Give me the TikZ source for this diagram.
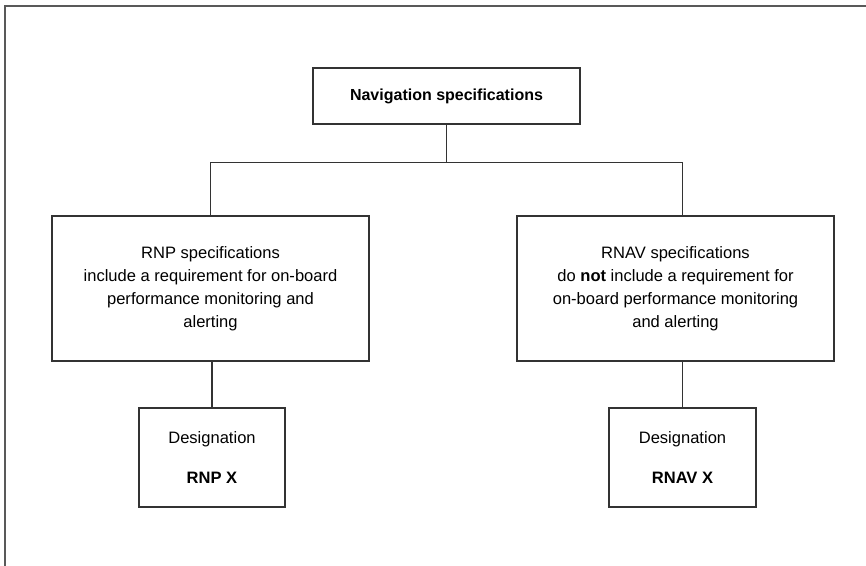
\documentclass[tikz,border=0pt]{standalone}
\usepackage{fontspec}
\setmainfont{Liberation Sans}
\usepackage{tikz}
\usetikzlibrary{positioning}
\usetikzlibrary{calc}

\begin{document}
\begin{tikzpicture}[x=0.75pt,y=-0.75pt,
	specbox/.style={draw=black!80, line width=1pt, align=center, inner sep=0pt, font=\fontsize{12.4}{17.25}\selectfont},
	frameline/.style={draw=black!65, line width=1.5pt}]
			\useasboundingbox (0,0) rectangle (866,566);
			\draw[frameline] (5,566) -- (5,6) -- (866,6);
			\node at (446.5,96) (nav) [specbox, minimum width=200.25pt, minimum height=42pt, font=\fontsize{12}{15}\selectfont\bfseries] {Navigation specifications};
			\node at (210.5,288.5) (rnp) [specbox, minimum width=237.75pt, minimum height=108.75pt] {RNP specifications\\include a requirement for on-board\\performance monitoring and\\alerting};
			\node at (675.5,288.5) (rnav) [specbox, minimum width=237.75pt, minimum height=108.75pt] {RNAV specifications\\do \textbf{not} include a requirement for\\on-board performance monitoring\\and alerting};
			\node at (212,457.5) (rnpx) [specbox, minimum width=109.5pt, minimum height=74.25pt] {Designation\\[12.75pt]\textbf{RNP X}};
			\node at (682.5,457.5) (rnavx) [specbox, minimum width=110.25pt, minimum height=74.25pt] {Designation\\[12.75pt]\textbf{RNAV X}};
			\coordinate (split) at ($(nav.south)+(0,38)$); %junction of the tree
			\draw[black!80, line width=1pt] (nav.south) -- (split);
			\draw[black!80, line width=1pt] (rnp.north) |- (split) -| (rnavx.north |- rnav.north);
			\draw[black!80, line width=1pt] (rnp.south) -- (rnp.south -| rnpx.north) -- (rnpx.north);
			\draw[black!80, line width=1pt] (rnavx.north |- rnav.south) -- (rnavx.north);
			\end{tikzpicture}
\end{document}
